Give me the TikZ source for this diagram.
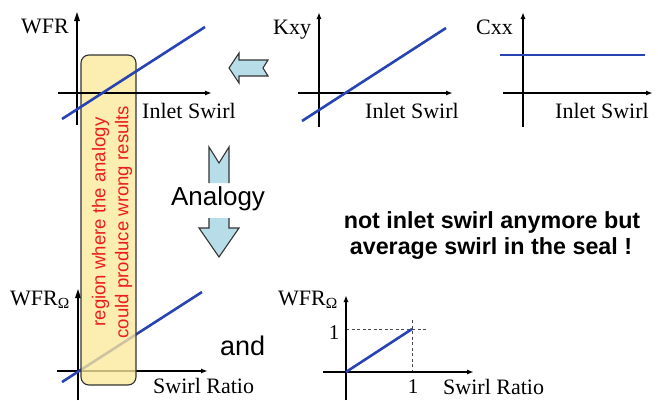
\documentclass[tikz,border=0pt]{standalone}
\usepackage{fontspec}
\setmainfont{Liberation Serif}
\newfontfamily\arialfont{Liberation Sans}
\usetikzlibrary{arrows.meta}
\definecolor{lineblue}{RGB}{40,68,178}
\definecolor{arrowblue}{RGB}{183,222,232}
\definecolor{boxyellow}{RGB}{252,232,155}
\definecolor{regionred}{RGB}{235,30,30}
\tikzset{
  axis/.style={line width=1.6pt,-{Latex[length=7pt,width=5pt]}},
  plainaxis/.style={line width=1.6pt},
  curve/.style={line width=2.6pt,lineblue},
  lbl/.style={inner sep=0pt,anchor=base west,font=\fontsize{22}{26}\selectfont},
  lblc/.style={inner sep=0pt,anchor=base,font=\fontsize{21}{26}\selectfont},
  bigarrow/.style={fill=arrowblue,draw=black!80,line width=1.1pt,line join=miter},
  guide/.style={dashed,line width=0.9pt,black!70,dash pattern=on 3pt off 2.5pt}
}
\begin{document}
\begin{tikzpicture}[x=1pt,y=-1pt]
\useasboundingbox (0,0) rectangle (658,400);
\fill[white] (0,0) rectangle (658,400);

% ---- bottom-left graph (under the region box)
\draw[plainaxis] (78,400) -- (78,292);
\draw[axis] (57,371) -- (208,371);
\draw[curve] (62,382) -- (202,292);
\fill (78,289) -- (75,298) -- (81,298) -- cycle;

% ---- region box
\draw[fill=boxyellow,fill opacity=0.78,draw=black!80,line width=1.1pt,rounded corners=8pt]
  (81,55) rectangle (136,385);
\node[rotate=90,align=center,text=regionred,inner sep=0pt,
  font=\arialfont\fontsize{18.6}{23}\selectfont] (region) at (112,222)
  {region where the analogy\\could produce wrong results};

% ---- top-left graph
\draw[plainaxis] (77,125) -- (77,20);
\fill (77,12) -- (74,21) -- (80,21) -- cycle;
\draw[axis] (58,93) -- (212,93);
\draw[curve] (62,119) -- (205,27);
\node[lbl] (wfr) at (21,33) {WFR};
\node[lbl] (inlet1) at (142,118) {Inlet Swirl};

% ---- Kxy graph
\draw[axis] (319,127) -- (319,12);
\draw[axis] (298,93) -- (453,93);
\draw[curve] (302,121) -- (446,28);
\node[lbl] (kxy) at (273,34) {Kxy};
\node[lbl] (inlet2) at (365,118) {Inlet Swirl};

% ---- Cxx graph
\draw[axis] (523,127) -- (523,12);
\draw[axis] (503,93) -- (653,93);
\draw[curve] (500,55) -- (645,55);
\node[lbl] (cxx) at (476,34) {Cxx};
\node[lbl] (inlet3) at (555,118) {Inlet Swirl};

% ---- left pointing block arrow
\draw[bigarrow] (229,68) -- (239,53) -- (239,60) -- (268,60) -- (263,68)
  -- (268,76) -- (239,76) -- (239,83) -- cycle;

% ---- Analogy block arrow (interrupted by its label)
\fill[arrowblue] (209,183) -- (209,147) -- (219,163) -- (229,147) -- (229,183) -- cycle;
\draw[bigarrow,fill=none] (209,183) -- (209,147) -- (219,163) -- (229,147) -- (229,183);
\fill[arrowblue] (209,218) -- (209,228) -- (199,228) -- (219,257) -- (239,228) -- (229,228) -- (229,218) -- cycle;
\draw[bigarrow,fill=none] (209,218) -- (209,228) -- (199,228) -- (219,257) -- (239,228) -- (229,228) -- (229,218);
\node[inner sep=0pt,anchor=base,font=\arialfont\fontsize{26}{30}\selectfont] (analogy) at (218,205) {Analogy};

% ---- bottom-left labels
\node[lbl] (wfro1) at (10,305) {WFR\textsubscript{Ω}};
\node[lbl] (ratio1) at (153,393) {Swirl Ratio};
\node[inner sep=0pt,anchor=base west,font=\arialfont\fontsize{27}{30}\selectfont] (and) at (220,355) {and};

% ---- statement
\node[inner sep=0pt,anchor=base,font=\arialfont\bfseries\fontsize{23.3}{28}\selectfont] (note1) at (492,228) {not inlet swirl anymore but};
\node[inner sep=0pt,anchor=base,font=\arialfont\bfseries\fontsize{23.3}{28}\selectfont] (note2) at (491,254) {average swirl in the seal !};

% ---- bottom-right graph
\draw[guide] (346,329) -- (428,329);
\draw[guide] (412,320) -- (412,372);
\draw[axis] (346,400) -- (346,295);
\draw[axis] (323,372) -- (474,372);
\draw[curve] (346,372) -- (412,329);
\node[lbl] (wfro2) at (278,305) {WFR\textsubscript{Ω}};
\node[lblc] (one1) at (334,339) {1};
\node[lblc] (one2) at (413,393) {1};
\node[lbl] (ratio2) at (443,394) {Swirl Ratio};
\end{tikzpicture}
\end{document}
